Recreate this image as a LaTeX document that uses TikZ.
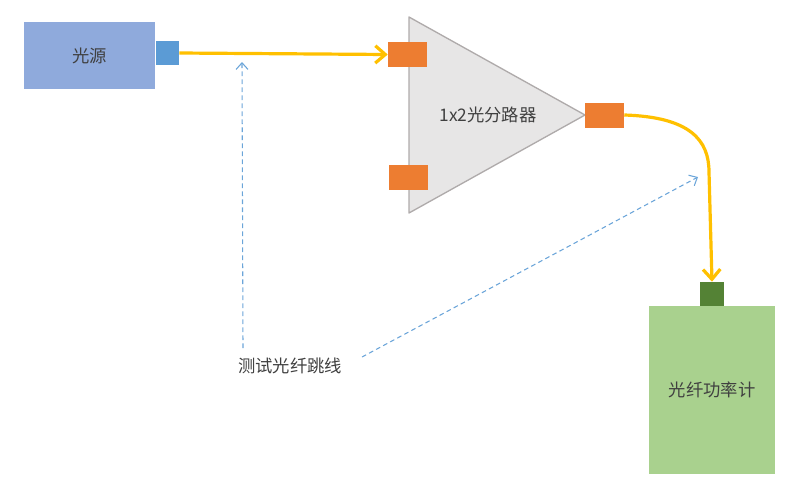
\documentclass[tikz,border=0pt]{standalone}
\usepackage{fontspec}
\setmainfont{Noto Sans CJK SC}
\usetikzlibrary{arrows.meta}
\definecolor{srcblue}{HTML}{8FAADC}
\definecolor{portblue}{HTML}{5B9BD5}
\definecolor{fiberyel}{HTML}{FFC000}
\definecolor{splitgray}{HTML}{E7E6E6}
\definecolor{edgegray}{HTML}{AFABAB}
\definecolor{portorg}{HTML}{ED7D31}
\definecolor{meterlt}{HTML}{A9D18E}
\definecolor{meterdk}{HTML}{548235}
\definecolor{txtgray}{HTML}{404040}
\tikzset{
  box/.style={draw=none,inner sep=0pt,text=txtgray,font=\fontsize{13}{15}\selectfont},
  port/.style={inner sep=0pt,minimum width=39*0.75pt,minimum height=25*0.75pt,fill=portorg},
  fiber/.style={fiberyel,line width=2.4pt,-{Straight Barb[length=7.5pt,width=13pt,line width=2.4pt]}},
  jumper/.style={portblue!90,dashed,dash pattern=on 3.5pt off 2.5pt,line width=0.8pt,-{Straight Barb[length=5pt,width=9pt]}}
}
\begin{document}
\begin{tikzpicture}[x=0.75pt,y=-0.75pt,line join=round]
	\useasboundingbox (0,0) rectangle (800,490);
	% light source
	\node[box,fill=srcblue,minimum width=131*0.75pt,minimum height=67*0.75pt] (src) at (89.5,55.5) {光源};
	\node[port,fill=portblue,minimum width=23*0.75pt,minimum height=24*0.75pt] (srcport) at (167.5,53) {};
	% splitter
	\draw[fill=splitgray,draw=edgegray,line width=1pt] (409,17)--(409,213)--(585,115)--cycle;
	\node[box] (split) at (488,115) {1x2光分路器};
	\node[port] (in1) at (407.5,54.5) {};
	\node[port] (in2) at (408.5,177.5) {};
	\node[port] (out) at (604.5,115) {};
	% power meter
	\node[box,fill=meterlt,minimum width=126*0.75pt,minimum height=168*0.75pt] (meter) at (712,390) {光纤功率计};
	\node[port,fill=meterdk,minimum width=24*0.75pt,minimum height=24*0.75pt] (mport) at (712,294) {};
	% fibers
	\draw[fiber] (srcport.east) -- (in1.west);
	\draw[fiber] (out.east) .. controls (690,117) and (709,140) .. (709,172) -- (mport.north);
	% label
	\node[box] (jump) at (290,366) {测试光纤跳线};
	\coordinate (tipa) at (242,62);
	\coordinate (tipb) at (698,177);
	\coordinate (taila) at (243,348);
	\coordinate (tailb) at (362,357);
	\draw[jumper] (taila) -- (tipa);
	\draw[jumper] (tailb) -- (tipb);
\end{tikzpicture}
\end{document}
